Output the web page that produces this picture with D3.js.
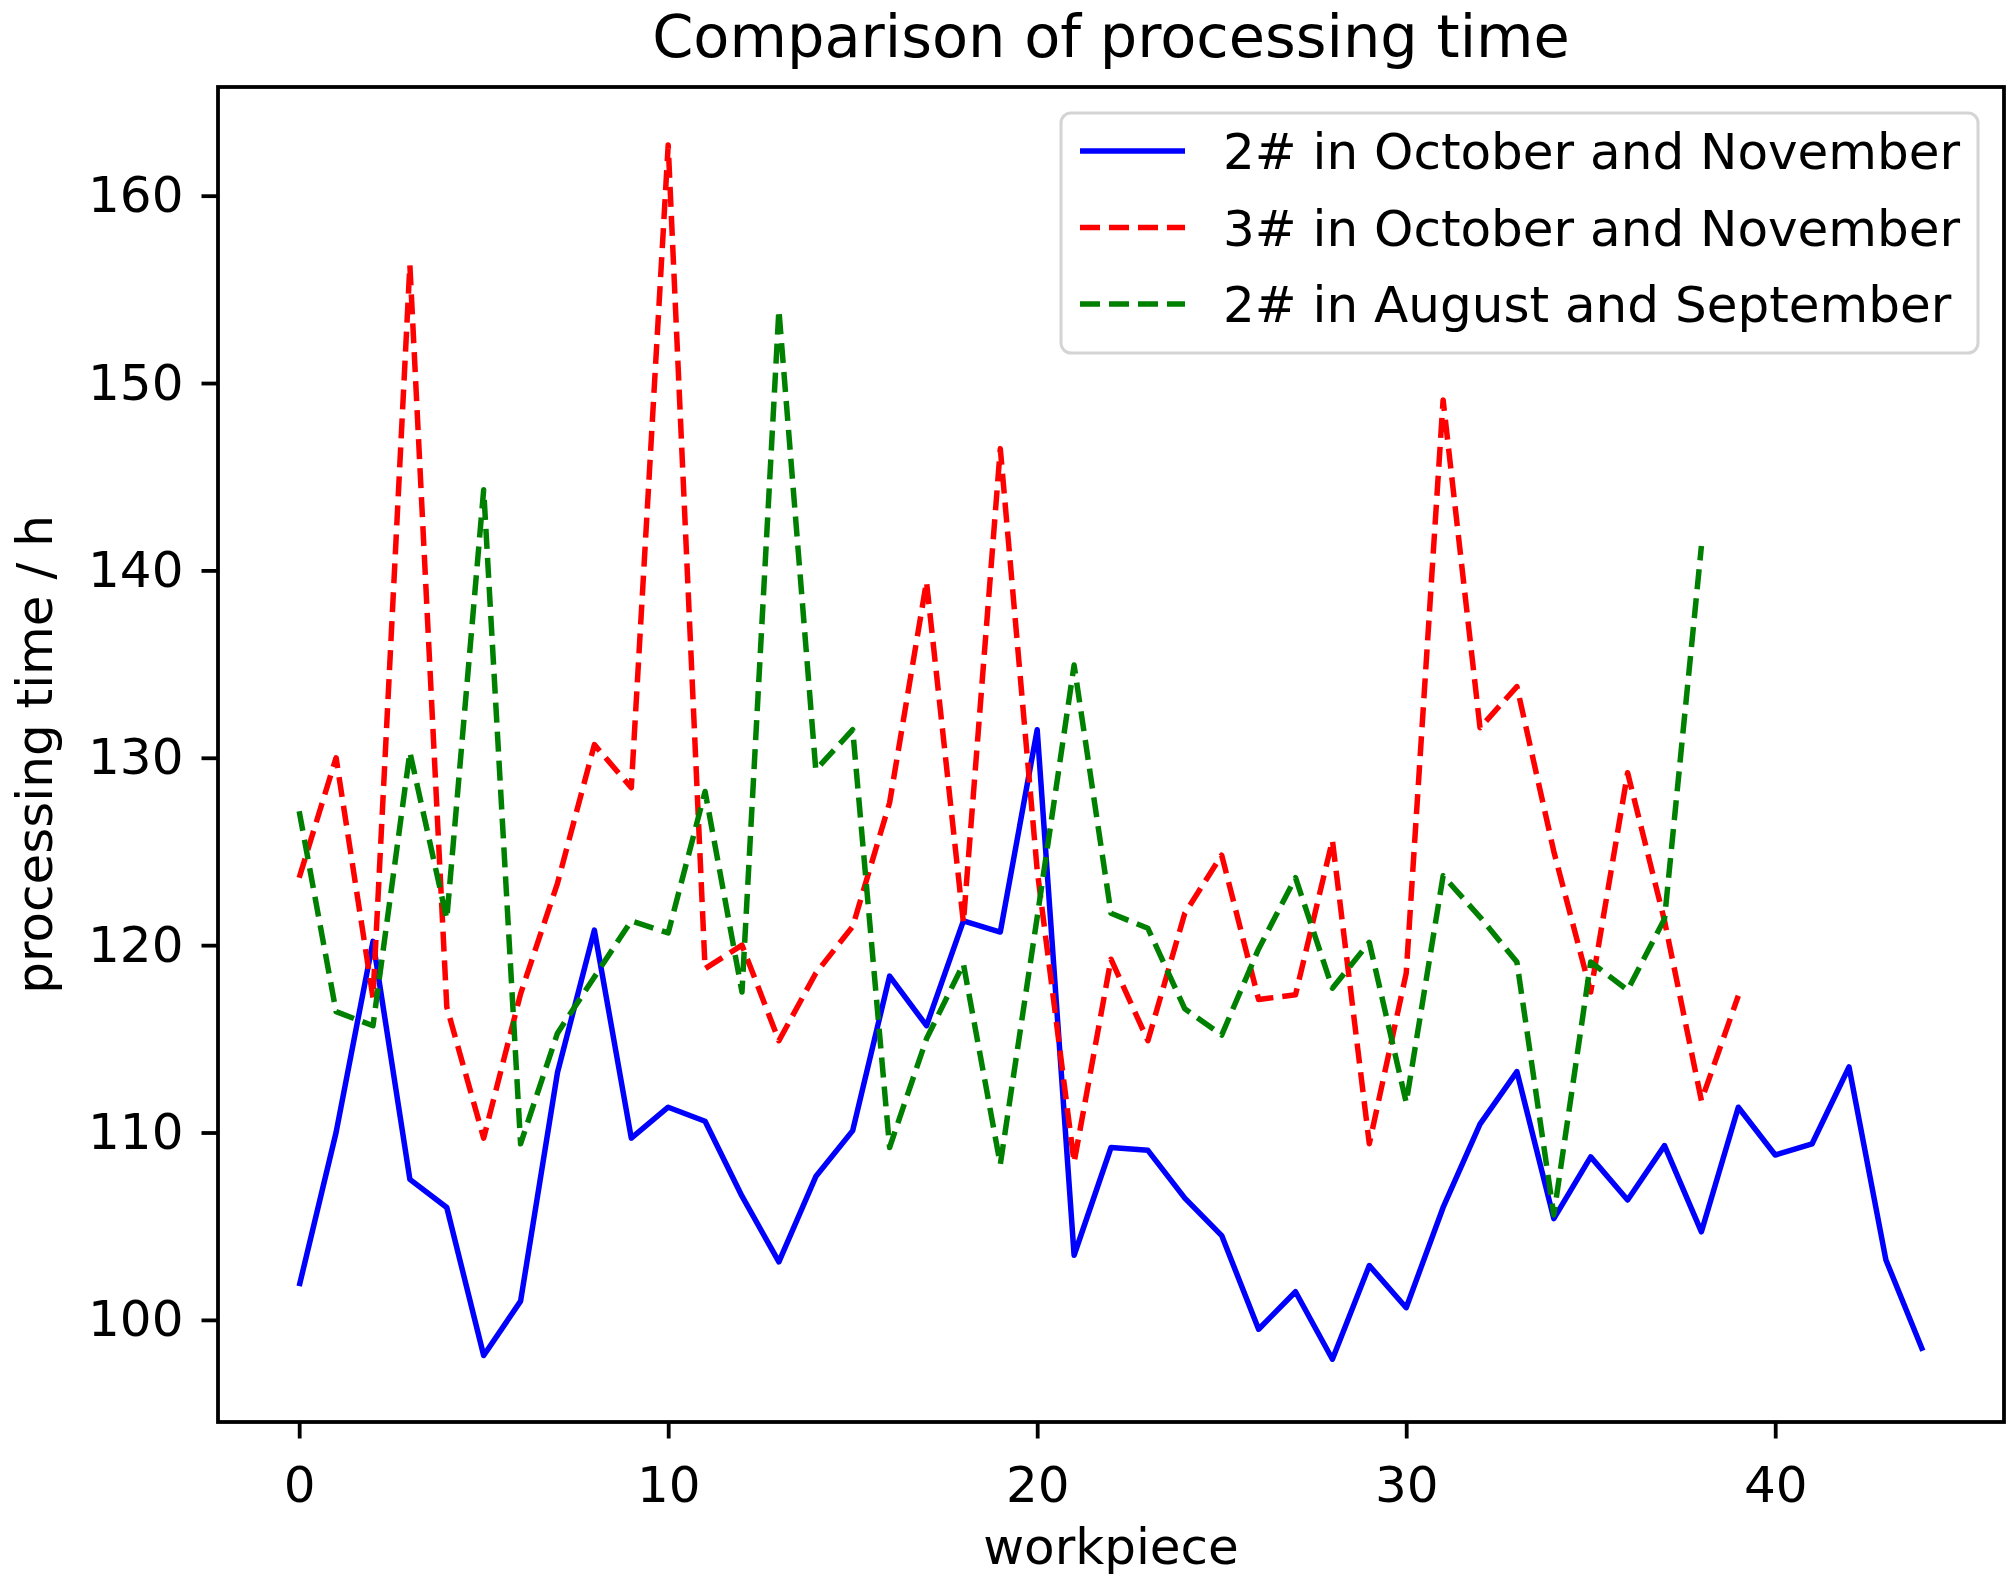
<!DOCTYPE html>
<html>
<head>
<meta charset="utf-8">
<script src="https://cdn.jsdelivr.net/npm/d3@7"></script>
<style>
  body { margin: 0; background: #fff; }
  svg { display: block; font-family: "DejaVu Sans", sans-serif; }
  .axis path { display: none; }
  .axis line { stroke: #000; stroke-width: 3.8px; }
  .axis text { font-size: 50px; fill: #000; font-family: "DejaVu Sans", sans-serif; }
  .series { fill: none; stroke-width: 5.5px; stroke-linejoin: round; }
</style>
</head>
<body>
<svg id="chart" width="2015" height="1588"></svg>
<script>
// workpiece index is the array position
const oct2 = [101.8, 110.0, 120.2, 107.5, 106.0, 98.1, 101.0, 113.2, 120.8, 109.7,
  111.35, 110.6, 106.6, 103.1, 107.65, 110.1, 118.35, 115.7, 121.3, 120.7,
  131.5, 103.45, 109.2, 109.05, 106.5, 104.5, 99.5, 101.5, 97.9, 102.9,
  100.65, 106.0, 110.45, 113.25, 105.4, 108.7, 106.4, 109.3, 104.7, 111.35,
  108.8, 109.4, 113.5, 103.2, 98.35];

const oct3 = [123.6, 130.0, 117.2, 156.3, 116.7, 109.7, 117.4, 123.3, 130.7, 128.4,
  162.7, 118.75, 120.0, 114.9, 118.5, 121.0, 127.6, 139.4, 121.2, 146.5,
  124.0, 108.4, 119.25, 114.9, 121.7, 124.8, 117.1, 117.35, 125.6, 109.4,
  118.5, 149.1, 131.6, 133.8, 125.0, 117.5, 129.2, 121.3, 111.7, 117.3];

const aug2 = [127.15, 116.45, 115.7, 130.3, 121.4, 144.3, 109.4, 115.3, 118.3, 121.3,
  120.65, 128.2, 117.5, 153.9, 129.35, 131.5, 109.2, 115.0, 119.0, 108.3,
  121.5, 134.95, 121.7, 120.9, 116.6, 115.2, 119.8, 123.6, 117.7, 120.15,
  111.6, 123.7, 121.5, 119.1, 105.6, 119.1, 117.6, 121.4, 141.3];

const seriesNames = ['2# in October and November', '3# in October and November', '2# in August and September'];
const xTicks = [0, 10, 20, 30, 40];
const yTicks = [100, 110, 120, 130, 140, 150, 160];

const series = [
  { name: seriesNames[0], values: oct2, color: '#0000ff', dash: null },
  { name: seriesNames[1], values: oct3, color: '#ff0000', dash: '20,9' },
  { name: seriesNames[2], values: aug2, color: '#008000', dash: '20,9' }
];

const plot = { left: 218, right: 2004, top: 87, bottom: 1422 };
const svg = d3.select('#chart');

const x = d3.scaleLinear().domain([-2.2, 46.2]).range([plot.left, plot.right]);
const y = d3.scaleLinear().domain([94.55, 165.8]).range([plot.bottom, plot.top]);

// axes
svg.append('g')
  .attr('class', 'axis')
  .attr('transform', `translate(0,${plot.bottom})`)
  .call(d3.axisBottom(x).tickValues(xTicks).tickSize(16.5).tickSizeOuter(0).tickPadding(28).tickFormat(d3.format('d')));

svg.append('g')
  .attr('class', 'axis')
  .attr('transform', `translate(${plot.left},0)`)
  .call(d3.axisLeft(y).tickValues(yTicks).tickSize(16.5).tickSizeOuter(0).tickPadding(18).tickFormat(d3.format('d')));

// lines
const line = d3.line()
  .x((d, i) => x(i))
  .y(d => y(d));

series.forEach(s => {
  svg.append('path')
    .attr('class', 'series')
    .attr('d', line(s.values))
    .attr('stroke', s.color)
    .attr('stroke-dasharray', s.dash);
});

// frame
svg.append('rect')
  .attr('x', plot.left)
  .attr('y', plot.top)
  .attr('width', plot.right - plot.left)
  .attr('height', plot.bottom - plot.top)
  .attr('fill', 'none')
  .attr('stroke', '#000')
  .attr('stroke-width', 3.8);

// title and axis labels
svg.append('text')
  .attr('x', (plot.left + plot.right) / 2)
  .attr('y', 57)
  .attr('text-anchor', 'middle')
  .attr('font-size', 59)
  .text('Comparison of processing time');

svg.append('text')
  .attr('x', (plot.left + plot.right) / 2)
  .attr('y', 1564)
  .attr('text-anchor', 'middle')
  .attr('font-size', 50)
  .text('workpiece');

svg.append('text')
  .attr('transform', `translate(52,${(plot.top + plot.bottom) / 2}) rotate(-90)`)
  .attr('text-anchor', 'middle')
  .attr('font-size', 50)
  .text('processing time / h');

// legend
const legend = svg.append('g').attr('transform', 'translate(1061,113)');
legend.append('rect')
  .attr('width', 917)
  .attr('height', 240)
  .attr('rx', 10)
  .attr('fill', '#fff')
  .attr('fill-opacity', 0.8)
  .attr('stroke', '#d4d4d4')
  .attr('stroke-width', 3);

series.forEach((s, i) => {
  const row = legend.append('g').attr('transform', `translate(0,${38 + i * 76.5})`);
  row.append('line')
    .attr('x1', 19).attr('x2', 124)
    .attr('stroke', s.color)
    .attr('stroke-width', 5.5)
    .attr('stroke-dasharray', s.dash);
  row.append('text')
    .attr('x', 162)
    .attr('y', 18)
    .attr('font-size', 50)
    .text(s.name);
});
</script>
</body>
</html>
